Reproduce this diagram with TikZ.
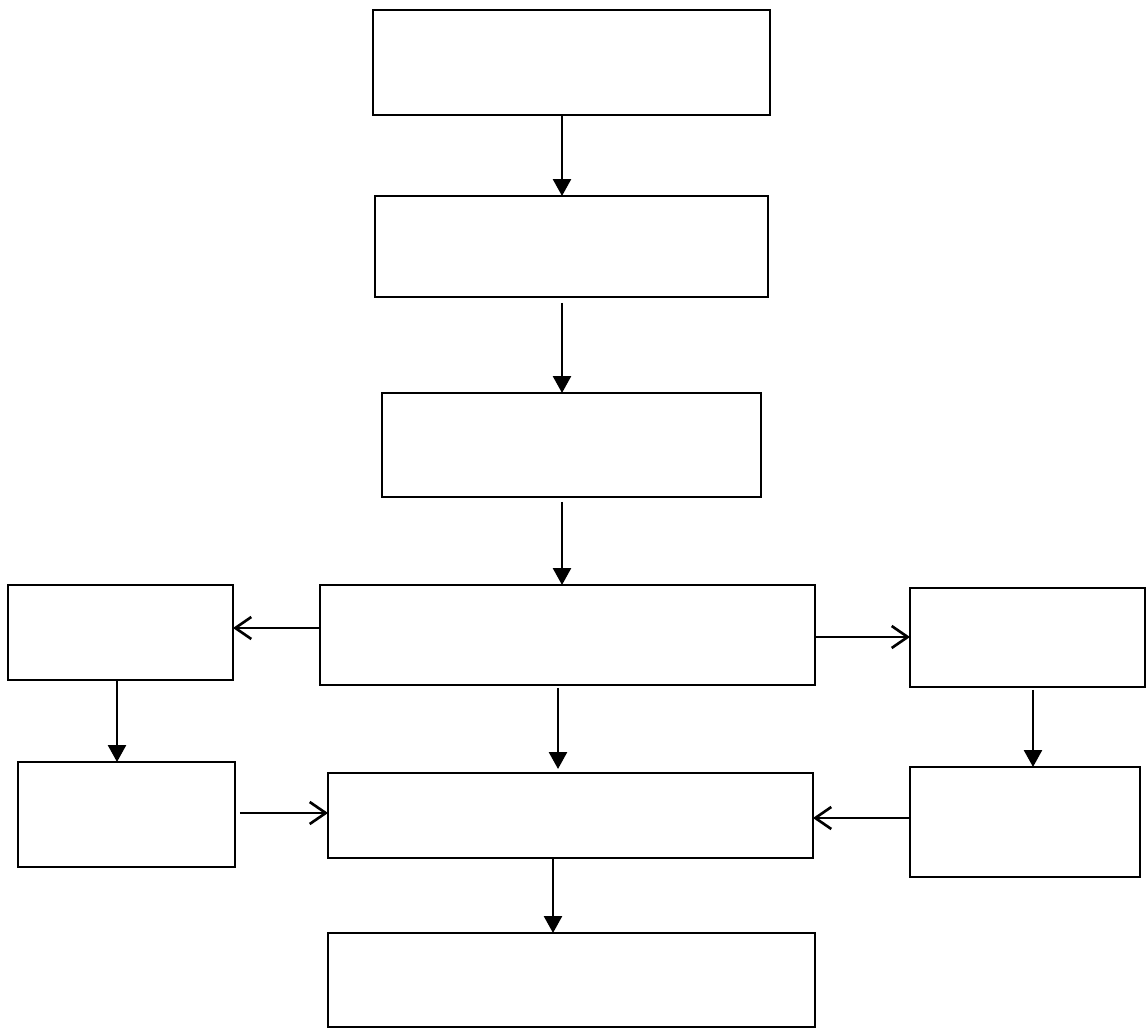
\documentclass[tikz,border=0pt]{standalone}
\usetikzlibrary{arrows.meta}
\begin{document}
\begin{tikzpicture}[x=0.02cm,y=-0.02cm,
  box/.style={draw,line width=1.6pt,inner sep=0pt,outer sep=0pt,fill=white},
  down/.style={line width=1.5pt,-{Triangle[length=0.34cm,width=0.36cm]}},
  open/.style={line width=1.5pt,-{Straight Barb[length=0.32cm,width=0.44cm,line width=1.5pt]}}]
\useasboundingbox (0,0) rectangle (1147,1030);
\node[box,minimum width=7.94cm,minimum height=2.10cm] (b1) at (571.5,62.5) {};
\node[box,minimum width=7.86cm,minimum height=2.02cm] (b2) at (571.5,246.5) {};
\node[box,minimum width=7.58cm,minimum height=2.08cm] (b3) at (571.5,445) {};
\node[box,minimum width=9.90cm,minimum height=2.00cm] (b4) at (567.5,635) {};
\node[box,minimum width=4.50cm,minimum height=1.90cm] (b5) at (120.5,632.5) {};
\node[box,minimum width=4.70cm,minimum height=1.98cm] (b6) at (1027.5,637.5) {};
\node[box,minimum width=4.34cm,minimum height=2.10cm] (b7) at (126.5,814.5) {};
\node[box,minimum width=9.70cm,minimum height=1.70cm] (b8) at (570.5,815.5) {};
\node[box,minimum width=4.60cm,minimum height=2.20cm] (b9) at (1025,822) {};
\node[box,minimum width=9.74cm,minimum height=1.88cm] (b10) at (571.5,980) {};
% vertical arrows
\draw[down] ([xshift=-0.19cm]b1.south) -- ([xshift=-0.19cm]b1.south |- b2.north);
\draw[down,shorten <=0.12cm] ([xshift=-0.19cm]b2.south) -- ([xshift=-0.19cm]b2.south |- b3.north);
\draw[down,shorten <=0.1cm] ([xshift=-0.19cm]b3.south) -- ([xshift=-0.19cm]b3.south |- b4.north);
\draw[down,shorten <=0.06cm,shorten >=0.08cm] ([xshift=-0.19cm]b4.south) -- ([xshift=-0.19cm]b4.south |- b8.north);
\draw[down] ([xshift=-0.07cm]b5.south) -- ([xshift=-0.07cm]b5.south |- b7.north);
\draw[down,shorten <=0.06cm] ([xshift=0.11cm]b6.south) -- ([xshift=0.11cm]b6.south |- b9.north);
\draw[down] ([xshift=-0.35cm]b8.south) -- ([xshift=-0.35cm]b8.south |- b10.north);
% horizontal arrows
\draw[open] ([yshift=0.14cm]b4.west) -- ([yshift=0.14cm]b4.west -| b5.east);
\draw[open] ([yshift=-0.04cm]b4.east) -- ([yshift=-0.04cm]b4.east -| b6.west);
\draw[open,shorten <=0.1cm] ([yshift=0.03cm]b7.east) -- ([yshift=0.03cm]b7.east -| b8.west);
\draw[open] ([yshift=0.08cm]b9.west) -- ([yshift=0.08cm]b9.west -| b8.east);
\end{tikzpicture}
\end{document}
